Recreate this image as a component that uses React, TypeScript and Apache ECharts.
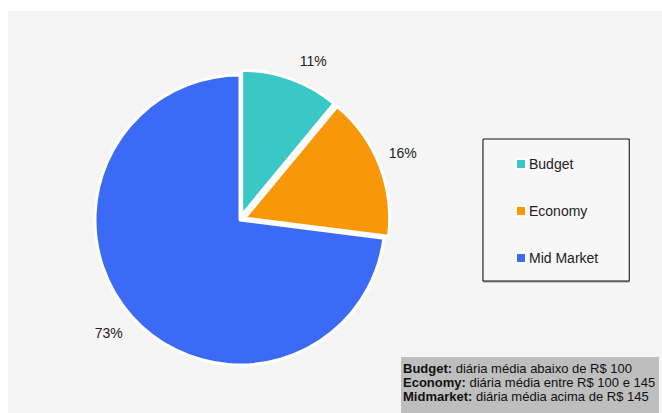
import React, { useEffect, useRef } from "react";
import * as echarts from "echarts";

const categories = ["Budget", "Economy", "Mid Market"];
const shares = [11, 16, 73];
const exploded = [true, true, false];
const sliceColors = ["#39c8c6", "#f89809", "#3a6af6"];
const noteLabels = ["Budget:", "Economy:", "Midmarket:"];
const noteTexts = [
  " diária média abaixo de R$ 100",
  " diária média entre R$ 100 e 145",
  " diária média acima de R$ 145",
];

const FONT = "'Liberation Sans', Arial, sans-serif";

export default function App() {
  const ref = useRef<HTMLDivElement>(null);
  useEffect(() => {
    if (!ref.current) return;
    const chart = echarts.init(ref.current, undefined, { renderer: "svg" });
    const pieData = categories.map((name, i) => ({
      name,
      value: shares[i],
      selected: exploded[i],
      itemStyle: { color: sliceColors[i] },
    }));
    // the smallest slice's label sits slightly clockwise of its bisector in the reference
    const labelData = categories.map((name, i) => ({
      name,
      value: shares[i],
      label: i === 0 ? { offset: [14, 9] } : undefined,
    }));
    const noteStr = noteLabels.map((l, i) => `{b|${l}}{r|${noteTexts[i]}}`).join("\n");
    chart.setOption({
      animation: false,
      backgroundColor: "#ffffff",
      textStyle: { fontFamily: FONT },
      legend: {
        orient: "vertical",
        left: 483,
        top: 139,
        data: categories,
        icon: "rect",
        itemWidth: 10,
        itemHeight: 10,
        itemGap: 31,
        padding: [17, 31, 15, 32],
        borderColor: "#111",
        borderWidth: 1,
        backgroundColor: "#f7f7f7",
        shadowColor: "rgba(0,0,0,0.35)",
        shadowOffsetY: 1,
        shadowOffsetX: 0,
        shadowBlur: 1,
        selectedMode: false,
        textStyle: { fontSize: 14, color: "#222", fontFamily: FONT, lineHeight: 16, padding: [0, 0, 0, -2] },
      },
      graphic: [
        {
          type: "rect",
          z: -10,
          silent: true,
          shape: { x: 8, y: 11, width: 654, height: 402 },
          style: { fill: "#f5f5f5" },
        },
        {
          type: "rect",
          z: 10,
          silent: true,
          shape: { x: 401, y: 357, width: 258, height: 56 },
          style: { fill: "#bebebe" },
        },
        {
          type: "text",
          z: 11,
          silent: true,
          x: 403,
          y: 361,
          style: {
            text: noteStr,
            fill: "#111",
            font: `13px ${FONT}`,
            lineHeight: 14,
            rich: {
              b: { fontWeight: "bold", fontSize: 13, fontFamily: FONT, lineHeight: 14, fill: "#111" },
              r: { fontSize: 13, fontFamily: FONT, lineHeight: 14, fill: "#111" },
            },
          },
        },
      ],
      series: [
        {
          type: "pie",
          center: [240, 220],
          radius: 145,
          startAngle: 90,
          clockwise: true,
          selectedMode: "multiple",
          selectedOffset: 5,
          data: pieData,
          label: { show: false },
          labelLine: { show: false },
          itemStyle: { borderColor: "#ffffff", borderWidth: 3 },
          select: { itemStyle: { borderColor: "#ffffff", borderWidth: 3 } },
          emphasis: { disabled: true },
        },
        {
          type: "pie",
          center: [240, 217],
          radius: [150, 194],
          startAngle: 90,
          clockwise: true,
          silent: true,
          data: labelData,
          itemStyle: { color: "rgba(0,0,0,0)" },
          label: {
            show: true,
            position: "inside",
            formatter: "{c}%",
            fontSize: 14,
            color: "#222",
            fontFamily: FONT,
          },
          labelLine: { show: false },
          emphasis: { disabled: true },
        },
      ],
    });
    return () => chart.dispose();
  }, []);
  return (
    <div
      ref={ref}
      style={{ position: "fixed", left: 0, top: 0, width: 662, height: 413 }}
    />
  );
}
